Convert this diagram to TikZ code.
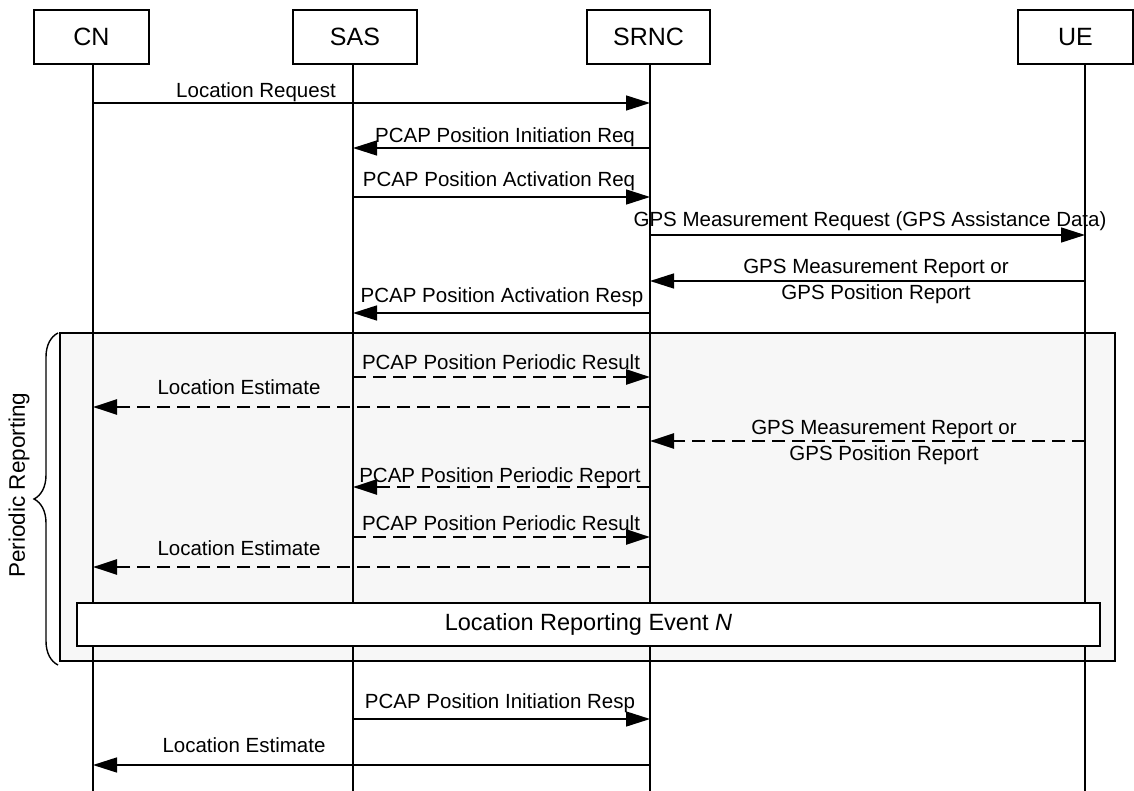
\documentclass[tikz,border=0pt]{standalone}
\usepackage{fontspec}
\setmainfont{Liberation Sans}
\usetikzlibrary{arrows.meta,decorations.pathreplacing}
\begin{document}
\begin{tikzpicture}[x=1pt,y=-1pt,
  hdr/.style={draw,line width=1.4pt,minimum height=54pt,inner sep=0pt,font=\fontsize{25}{29}\selectfont},
  life/.style={line width=1.4pt},
  msg/.style={line width=1.5pt,-{Triangle[length=24pt,width=15pt]}},
  dmsg/.style={line width=2.4pt,dash pattern=on 13pt off 7pt,-{Triangle[length=24pt,width=15pt]}},
  lbl/.style={anchor=base,inner sep=0pt,font=\fontsize{20.5}{26}\selectfont}]
\useasboundingbox (0,0) rectangle (1134,791);
% headers
\node[hdr,minimum width=115pt] (CN) at (91.5,37) {CN};
\node[hdr,minimum width=124pt] (SAS) at (355,37) {SAS};
\node[hdr,minimum width=123pt] (SRNC) at (648.5,37) {SRNC};
\node[hdr,minimum width=115pt] (UE) at (1075.5,37) {UE};
% lifeline coordinates
\coordinate (cnT) at (93,64);   \coordinate (cnB) at (93,791);
\coordinate (sasT) at (353,64); \coordinate (sasB) at (353,791);
\coordinate (srT) at (650,64);  \coordinate (srB) at (650,791);
\coordinate (ueT) at (1085,64); \coordinate (ueB) at (1085,791);
% periodic frame
\node[draw,line width=1.4pt,fill=black!3,minimum width=1055pt,minimum height=328pt,inner sep=0pt] (frame) at (587.5,497) {};
% lifelines
\draw[life] (cnT) -- (cnB);
\draw[life] (sasT) -- (sasB);
\draw[life] (srT) -- (srB);
\draw[life] (ueT) -- (ueB);
% event box
\node[draw,line width=1.4pt,fill=white,minimum width=1023pt,minimum height=43pt,inner sep=0pt,font=\fontsize{23.5}{28}\selectfont] (evt) at (588.5,624.5) {Location Reporting Event \textit{N}};
% brace
\coordinate (brB) at (58,665); \coordinate (brT) at (58,333);
\draw[line width=1.4pt,decorate,decoration={brace,amplitude=24pt}] (brB) -- (brT);
\node[rotate=90,inner sep=0pt,font=\fontsize{22.5}{26}\selectfont] (pr) at (19,485) {Periodic Reporting};
% message coordinates
\coordinate (a1) at (93,103);   \coordinate (b1) at (650,103);
\coordinate (a2) at (650,148);  \coordinate (b2) at (353,148);
\coordinate (a3) at (353,197);  \coordinate (b3) at (650,197);
\coordinate (a4) at (650,235);  \coordinate (b4) at (1085,235);
\coordinate (a5) at (1085,281); \coordinate (b5) at (650,281);
\coordinate (a6) at (650,313);  \coordinate (b6) at (353,313);
\coordinate (a7) at (353,377);  \coordinate (b7) at (650,377);
\coordinate (a8) at (650,407);  \coordinate (b8) at (93,407);
\coordinate (a9) at (1085,441); \coordinate (b9) at (650,441);
\coordinate (a10) at (650,487); \coordinate (b10) at (353,487);
\coordinate (a11) at (353,537); \coordinate (b11) at (650,537);
\coordinate (a12) at (650,567); \coordinate (b12) at (93,567);
\coordinate (a13) at (353,719); \coordinate (b13) at (650,719);
\coordinate (a14) at (650,765); \coordinate (b14) at (93,765);
% messages
\draw[msg] (a1) -- (b1);
\draw[msg] (a2) -- (b2);
\draw[msg] (a3) -- (b3);
\draw[msg] (a4) -- (b4);
\draw[msg] (a5) -- (b5);
\draw[msg] (a6) -- (b6);
\draw[dmsg] (a7) -- (b7);
\draw[dmsg] (a8) -- (b8);
\draw[dmsg] (a9) -- (b9);
\draw[dmsg] (a10) -- (b10);
\draw[dmsg] (a11) -- (b11);
\draw[dmsg] (a12) -- (b12);
\draw[msg] (a13) -- (b13);
\draw[msg] (a14) -- (b14);
% labels
\node[lbl] (l1) at (256,98) {Location Request};
\node[lbl] (l2) at (505,143) {PCAP Position Initiation Req};
\node[lbl] (l3) at (499,187) {PCAP Position Activation Req};
\node[lbl] (l4) at (870,227) {GPS Measurement Request (GPS Assistance Data)};
\node[lbl] (l5a) at (876,274) {GPS Measurement Report or};
\node[lbl] (l5b) at (876,300) {GPS Position Report};
\node[lbl] (l6) at (502,303) {PCAP Position Activation Resp};
\node[lbl] (l7) at (501,369) {PCAP Position Periodic Result};
\node[lbl] (l8) at (239,394) {Location Estimate};
\node[lbl] (l9a) at (884,434) {GPS Measurement Report or};
\node[lbl] (l9b) at (884,460) {GPS Position Report};
\node[lbl] (l10) at (500,482) {PCAP Position Periodic Report};
\node[lbl] (l11) at (501,530) {PCAP Position Periodic Result};
\node[lbl] (l12) at (239,555) {Location Estimate};
\node[lbl] (l13) at (500,708) {PCAP Position Initiation Resp};
\node[lbl] (l14) at (244,752) {Location Estimate};
\end{tikzpicture}
\end{document}
